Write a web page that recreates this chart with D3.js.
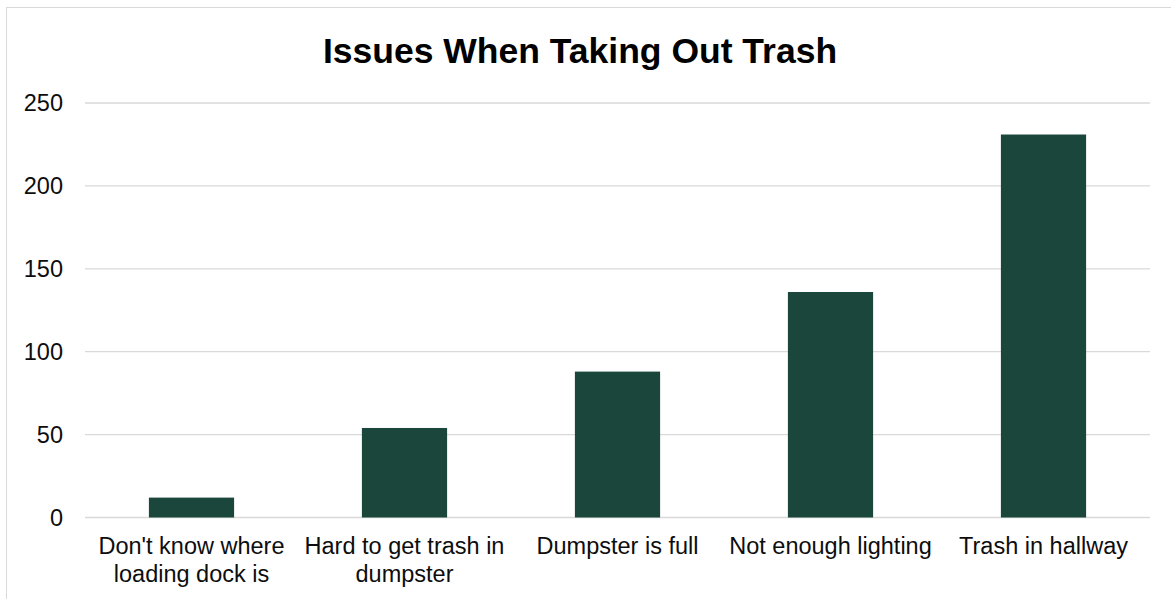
<!DOCTYPE html>
<html>
<head>
<meta charset="utf-8">
<script src="https://cdn.jsdelivr.net/npm/d3@7"></script>
<style>
  body { margin: 0; background: #fff; }
  svg { display: block; font-family: "Liberation Sans", Arial, sans-serif; }
</style>
</head>
<body>
<div id="chart"></div>
<script>
// data
var categories = ["Don't know where loading dock is", "Hard to get trash in dumpster", "Dumpster is full", "Not enough lighting", "Trash in hallway"];
var counts = [12, 54, 88, 136, 231];
var yTicks = [0, 50, 100, 150, 200, 250];
var title = "Issues When Taking Out Trash";

var width = 1171;
var height = 599;

var svg = d3.select("#chart")
  .append("svg")
  .attr("width", width)
  .attr("height", height);

// chart frame
svg.append("rect")
  .attr("x", 6.5)
  .attr("y", 7.5)
  .attr("width", width + 10)
  .attr("height", height + 10)
  .attr("fill", "none")
  .attr("stroke", "#d9d9d9")
  .attr("stroke-width", 1);

var x = d3.scaleBand()
  .domain(categories)
  .range([85, 1150])
  .paddingInner(0.6)
  .paddingOuter(0.3);

var y = d3.scaleLinear()
  .domain([0, 250])
  .range([517.5, 103]);

// gridlines
svg.append("g")
  .selectAll("line")
  .data(yTicks)
  .enter()
  .append("line")
  .attr("x1", 85)
  .attr("x2", 1150)
  .attr("y1", d => y(d))
  .attr("y2", d => y(d))
  .attr("stroke", "#d9d9d9")
  .attr("stroke-width", 1.3);

// y labels
svg.append("g")
  .selectAll("text")
  .data(yTicks)
  .enter()
  .append("text")
  .attr("x", 63)
  .attr("y", d => y(d))
  .attr("dy", "0.35em")
  .attr("text-anchor", "end")
  .attr("font-size", 23.5)
  .attr("fill", "#0d0d0d")
  .text(d => d);

// bars
svg.append("g")
  .selectAll("rect")
  .data(counts)
  .enter()
  .append("rect")
  .attr("x", (d, i) => x(categories[i]))
  .attr("width", x.bandwidth())
  .attr("y", d => y(d))
  .attr("height", d => y(0) - y(d))
  .attr("fill", "#1a463c");

// category labels, wrapped to the band step
var labels = svg.append("g")
  .selectAll("text")
  .data(categories)
  .enter()
  .append("text")
  .attr("text-anchor", "middle")
  .attr("font-size", 23.5)
  .attr("fill", "#0d0d0d")
  .attr("x", d => x(d) + x.bandwidth() / 2)
  .attr("y", 554);

labels.each(function (d) {
  var el = d3.select(this);
  var words = d.split(" ");
  var line = [];
  var lineNo = 0;
  var cx = x(d) + x.bandwidth() / 2;
  var tspan = el.append("tspan").attr("x", cx).attr("dy", 0);
  words.forEach(w => {
    line.push(w);
    tspan.text(line.join(" "));
    if (tspan.node().getComputedTextLength() > x.step() - 4 && line.length > 1) {
      line.pop();
      tspan.text(line.join(" "));
      line = [w];
      lineNo++;
      tspan = el.append("tspan").attr("x", cx).attr("dy", 28).text(w);
    }
  });
});

// title
svg.append("text")
  .attr("x", 580)
  .attr("y", 62.5)
  .attr("text-anchor", "middle")
  .attr("font-size", 35.5)
  .attr("font-weight", "bold")
  .attr("fill", "#000")
  .text(title);
</script>
</body>
</html>
